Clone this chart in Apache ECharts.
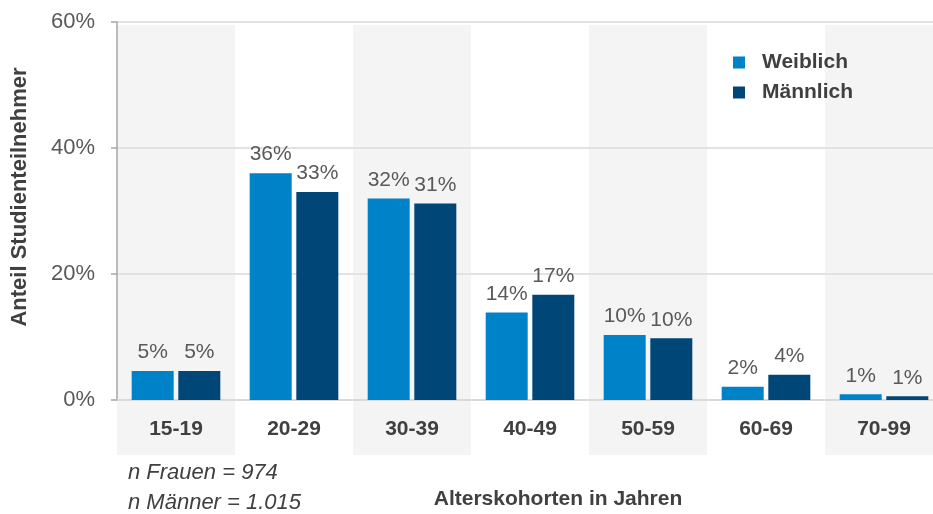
<!DOCTYPE html>
<html>
<head>
<meta charset="utf-8">
<script src="https://cdn.jsdelivr.net/npm/echarts@6/dist/echarts.min.js"></script>
<style>
  html, body { margin: 0; padding: 0; background: #ffffff; }
  #chart { width: 933px; height: 514px; }
</style>
</head>
<body>
<div id="chart"></div>
<script>
// Altersverteilung der Studienteilnehmer nach Geschlecht (Anteile in %)
const categories = ['15-19', '20-29', '30-39', '40-49', '50-59', '60-69', '70-99'];
const weiblich = [4.6, 36.0, 32.0, 13.9, 10.3, 2.1, 0.9];
const maennlich = [4.6, 33.0, 31.2, 16.7, 9.8, 4.0, 0.6];
const seriesNames = ['Weiblich', 'Männlich'];
const yTicks = [0, 20, 40, 60];
const notes = ['n Frauen = 974', 'n Männer = 1.015'];

const FONT = '"Liberation Sans", Arial, Helvetica, sans-serif';
const TEXT_DARK = '#404040';
const TEXT_GREY = '#595959';

const chart = echarts.init(document.getElementById('chart'), null, { renderer: 'canvas' });

const valueLabel = {
  show: true,
  position: 'top',
  distance: 8,
  color: TEXT_GREY,
  fontFamily: FONT,
  fontSize: 21,
  formatter: p => Math.round(p.value) + '%'
};

chart.setOption({
  animation: false,
  backgroundColor: '#ffffff',
  textStyle: { fontFamily: FONT },
  grid: [
    { left: 117, top: 22, width: 826, height: 378, outerBoundsMode: 'none', containLabel: false },
    // background bands reaching below the axis labels
    { left: 117, top: 25, width: 826, height: 430, outerBoundsMode: 'none', containLabel: false }
  ],
  legend: {
    orient: 'vertical',
    left: 728,
    top: 47,
    itemWidth: 12,
    itemHeight: 12,
    itemGap: 9,
    icon: 'rect',
    data: seriesNames,
    textStyle: {
      color: TEXT_DARK,
      fontFamily: FONT,
      fontSize: 21,
      fontWeight: 'bold',
      padding: [0, 0, 0, 12]
    }
  },
  xAxis: [
    {
      type: 'category',
      gridIndex: 0,
      data: categories,
      z: 2,
      axisLine: { show: true, lineStyle: { color: '#d9d9d9', width: 2 } },
      axisTick: { show: false },
      axisLabel: {
        color: TEXT_DARK,
        fontFamily: FONT,
        fontSize: 21,
        fontWeight: 'bold',
        margin: 19
      },
      name: 'Alterskohorten in Jahren',
      nameLocation: 'middle',
      nameGap: 89,
      nameTextStyle: {
        color: TEXT_DARK,
        fontFamily: FONT,
        fontSize: 21,
        fontWeight: 'bold',
        padding: [0, 0, 0, 56]
      }
    },
    {
      type: 'category',
      gridIndex: 1,
      data: categories,
      z: 0,
      axisLine: { show: false },
      axisTick: { show: false },
      axisLabel: { show: false },
      splitLine: { show: false },
      splitArea: {
        show: true,
        interval: 0,
        areaStyle: { color: ['#f4f4f4', 'rgba(255,255,255,0)'] }
      }
    }
  ],
  yAxis: [
    {
      type: 'value',
      gridIndex: 0,
      min: yTicks[0],
      max: yTicks[yTicks.length - 1],
      interval: yTicks[1] - yTicks[0],
      z: 2,
      axisLine: { show: true, lineStyle: { color: '#a6a6a6', width: 1.5 } },
      axisTick: { show: true, length: 6, lineStyle: { color: '#a6a6a6', width: 1.5 } },
      splitLine: { show: true, lineStyle: { color: '#e2e2e2', width: 2 } },
      axisLabel: {
        color: TEXT_GREY,
        fontFamily: FONT,
        fontSize: 22,
        margin: 22,
        formatter: v => v + '%'
      },
      name: 'Anteil Studienteilnehmer',
      nameLocation: 'middle',
      nameGap: 86,
      nameTextStyle: {
        color: TEXT_DARK,
        fontFamily: FONT,
        fontSize: 22,
        fontWeight: 'bold',
        padding: [0, 0, 0, 28]
      }
    },
    {
      type: 'value',
      gridIndex: 1,
      min: 0,
      max: 1,
      show: false
    }
  ],
  series: [
    {
      name: seriesNames[0],
      type: 'bar',
      xAxisIndex: 0,
      yAxisIndex: 0,
      data: weiblich,
      barWidth: 42,
      barGap: '11%',
      itemStyle: { color: '#0082c8' },
      label: valueLabel
    },
    {
      name: seriesNames[1],
      type: 'bar',
      xAxisIndex: 0,
      yAxisIndex: 0,
      data: maennlich,
      barWidth: 42,
      barGap: '11%',
      itemStyle: { color: '#004676' },
      label: valueLabel
    }
  ],
  graphic: notes.map((t, i) => ({
    type: 'text',
    left: 128,
    top: 462 + i * 30,
    style: {
      text: t,
      fill: TEXT_DARK,
      font: 'italic 22px ' + FONT
    }
  }))
});
</script>
</body>
</html>
